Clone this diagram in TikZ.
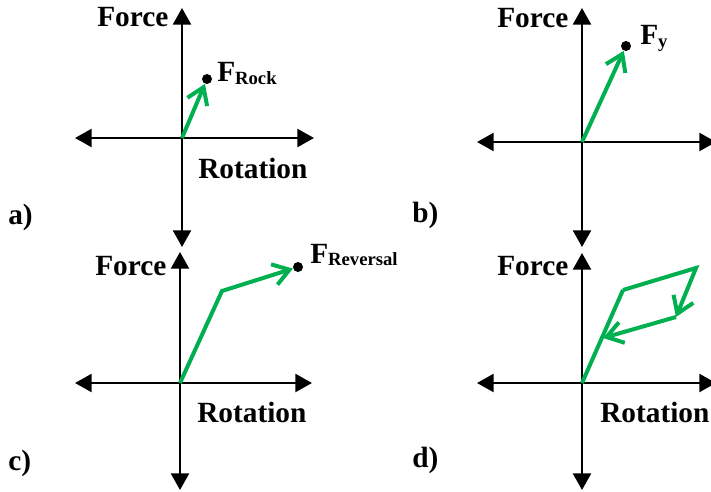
\documentclass[tikz,border=0pt]{standalone}
\usepackage{fontspec}
\setmainfont{Liberation Serif}
\usetikzlibrary{arrows.meta,positioning}
\definecolor{ink}{HTML}{000000}
\definecolor{loadgreen}{HTML}{00B050}
\tikzset{
  axisline/.style={draw=ink,line width=1.8pt,
                   {Triangle[length=12.5pt,width=13.5pt]}-{Triangle[length=12.5pt,width=13.5pt]}},
  loadline/.style={draw=loadgreen,line width=3pt},
  loadarr/.style={loadline,-{Straight Barb[length=12pt,width=16pt]}},
  tipdot/.style={circle,fill=ink,inner sep=0pt,minimum size=7.5pt},
  axislabel/.style={inner sep=0pt,font=\fontsize{22}{25}\selectfont\bfseries},
  panellabel/.style={inner sep=0pt,font=\fontsize{22}{25}\selectfont\bfseries}
}
\newcommand{\fsub}[1]{F\raisebox{-2pt}{\fontsize{14}{16}\selectfont #1}}

\begin{document}
\begin{tikzpicture}[x=0.75pt,y=-0.75pt]
  \useasboundingbox (0,0) rectangle (711,492);
  % axes of the four panels
  \foreach \p/\ox/\oy/\lx/\rx/\ty/\by in {a/182/138/75/314/8/247,
      b/582/142/477/716/8/247, c/180/383/75/312/252/490, d/582/383/477/716/253/490} {
    \coordinate (o\p) at (\ox,\oy);
    \coordinate (l\p) at (\lx,\oy);
    \coordinate (r\p) at (\rx,\oy);
    \coordinate (t\p) at (\ox,\ty);
    \coordinate (b\p) at (\ox,\by);
    \draw[axisline] (l\p) -- (r\p);
    \draw[axisline] (b\p) -- (t\p);
  }
  \node[axislabel,anchor=base west] (forcea) at (97,27) {Force};
  \node[axislabel,anchor=base west] (forceb) at (497,28) {Force};
  \node[axislabel,anchor=base west] (forcec) at (95,275) {Force};
  \node[axislabel,anchor=base west] (forced) at (497,275) {Force};
  \node[axislabel,anchor=base west] (rota) at (198,178) {Rotation};
  \node[axislabel,anchor=base west] (rotc) at (197,422) {Rotation};
  \node[axislabel,anchor=base west] (rotd) at (600,422) {Rotation};
  \node[panellabel,anchor=base west] (pa) at (8,224) {a)};
  \node[panellabel,anchor=base west] (pb) at (412,222) {b)};
  \node[panellabel,anchor=base west] (pc) at (8,470) {c)};
  \node[panellabel,anchor=base west] (pd) at (412,467) {d)};
  % a) rock
  \node[tipdot] (rock) at (207,79) {};
  \node[axislabel,anchor=base west] (rocklab) at (217,82) {\fsub{Rock}};
  \draw[loadarr] (oa) -- (rock);
  % b) yield
  \node[tipdot] (yield) at (626,46) {};
  \node[axislabel,anchor=base west] (yieldlab) at (640,45) {\fsub{y}};
  \draw[loadarr] (ob) -- (yield);
  % c) reversal
  \coordinate (kneec) at (222,291);
  \node[tipdot] (rev) at (298,267) {};
  \node[axislabel,anchor=base west] (revlab) at (310,263) {\fsub{Reversal}};
  \draw[loadarr] (oc) -- (kneec) -- (rev);
  % d) unloading
  \coordinate (kneed) at (623,290);
  \coordinate (peakd) at (696,268);
  \coordinate (turnd) at (676,317);
  \coordinate (backd) at (603,338);
  \draw[loadline] (od) -- (kneed);
  \draw[loadarr] (kneed) -- (peakd) -- (turnd);
  \draw[loadarr] (turnd) -- (backd);
\end{tikzpicture}
\end{document}
